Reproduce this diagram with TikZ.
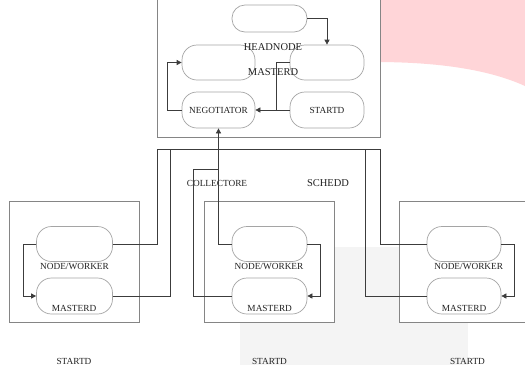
\documentclass[tikz,border=0pt]{standalone}
\usepackage{fontspec}
\setmainfont{Liberation Serif}
\usetikzlibrary{arrows.meta}
\definecolor{pillgray}{HTML}{A5A5A5}
\definecolor{framegray}{HTML}{858585}
\definecolor{linegray}{HTML}{3C3C3C}
\definecolor{textgray}{HTML}{222222}
\definecolor{bgpink}{HTML}{FFD5D8}
\definecolor{bggray}{HTML}{F4F4F4}
\begin{document}
\begin{tikzpicture}[x=1pt,y=-1pt,
  pill/.style={draw=pillgray, line width=0.7pt, rounded corners=15pt, inner sep=0pt,
    font=\fontsize{9.3}{11}\selectfont, text=textgray},
  frame/.style={draw=framegray, line width=0.8pt, fill=white, inner sep=0pt},
  conn/.style={draw=linegray, line width=0.7pt},
  arr/.style={conn, -{Triangle[length=5pt,width=5pt]}},
  lbl/.style={font=\fontsize{9.3}{11}\selectfont, inner sep=0pt, text=textgray},
  biglbl/.style={font=\fontsize{10.5}{12}\selectfont, inner sep=0pt, text=textgray}]
\clip (0,0) rectangle (525,365);
\fill[white] (0,0) rectangle (525,365);
% background shapes
\fill[bgpink] (375,0) -- (525,0) -- (525,86) .. controls (490,70) and (440,62) .. (375,62) -- cycle;
\fill[bggray] (240,247) rectangle (468,365);
% frames
\node[frame, minimum width=223pt, minimum height=139pt] (head) at (269,67.5) {};
\node[frame, minimum width=130pt, minimum height=121pt] (lbox) at (74,261.5) {};
\node[frame, minimum width=130pt, minimum height=121pt] (mbox) at (269,261.5) {};
\node[frame, minimum width=130pt, minimum height=121pt] (rbox) at (464,261.5) {};
% head pills
\node[pill, rounded corners=13pt, minimum width=75pt, minimum height=27pt] (tp) at (269.5,18.5) {};
\node[pill, minimum width=73pt, minimum height=35pt] (lm) at (218.5,62.5) {};
\node[pill, minimum width=74pt, minimum height=35pt] (rm) at (327,62.5) {};
\node[pill, minimum width=73pt, minimum height=36pt] (neg) at (218.5,110) {NEGOTIATOR};
\node[pill, minimum width=74pt, minimum height=36pt] (sd) at (327,110) {STARTD};
% bottom pills
\node[pill, minimum width=76pt, minimum height=35pt] (lu) at (74.5,244) {};
\node[pill, minimum width=76pt, minimum height=36pt] (ll) at (74.5,296) {};
\node[pill, minimum width=75pt, minimum height=35pt] (mu) at (269.5,244) {};
\node[pill, minimum width=75pt, minimum height=36pt] (ml) at (269.5,296) {};
\node[pill, minimum width=74pt, minimum height=35pt] (ru) at (464,244) {};
\node[pill, minimum width=74pt, minimum height=36pt] (rl) at (464,296) {};
% labels
\node[biglbl] (hl) at (273,47.3) {HEADNODE};
\node[biglbl] (hm) at (273,71.7) {MASTERD};
\node[lbl] (coll) at (217,183) {COLLECTORE};
\node[biglbl] (sch) at (328,183) {SCHEDD};
\node[lbl] (lnw) at (74.5,266) {NODE/WORKER};
\node[lbl] (mnw) at (269,266) {NODE/WORKER};
\node[lbl] (rnw) at (468.7,266) {NODE/WORKER};
\node[lbl] (lms) at (74,308) {MASTERD};
\node[lbl] (mms) at (269.7,308) {MASTERD};
\node[lbl] (rms) at (464,308) {MASTERD};
\node[lbl] (lsd) at (74,361) {STARTD};
\node[lbl] (msd) at (269.5,361) {STARTD};
\node[lbl] (rsd) at (467.5,361) {STARTD};
% head connectors
\coordinate (hj) at (276,110);
\draw[arr] (tp.east) -| (rm.north);
\draw[arr] (neg.west) -- ++(-14,0) |- (lm.west);
\draw[arr] (rm.west) -| (hj) -- (neg.east);
\draw[conn] (sd.west) -- (hj);
% cross connectors
\coordinate (bL) at (157.5,149);
\coordinate (bR) at (380.5,149);
\coordinate (bL2) at (170.5,149);
\coordinate (bR2) at (365,149);
\coordinate (mc) at (193,169);
\coordinate (mj) at (218.5,169);
\draw[conn] (lu.east) -| (bL) -- (bR) |- (ru.west);
\draw[conn] (ll.east) -| (bL2);
\draw[conn] (rl.west) -| (bR2);
\draw[arr] (mu.west) -| (neg.south);
\draw[conn] (ml.west) -| (mc) -- (mj);
% inner box connectors
\draw[arr] (lu.west) -- ++(-13,0) |- (ll.west);
\draw[arr] (mu.east) -- ++(13,0) |- (ml.east);
\draw[arr] (ru.east) -- ++(13,0) |- (rl.east);
\end{tikzpicture}
\end{document}
